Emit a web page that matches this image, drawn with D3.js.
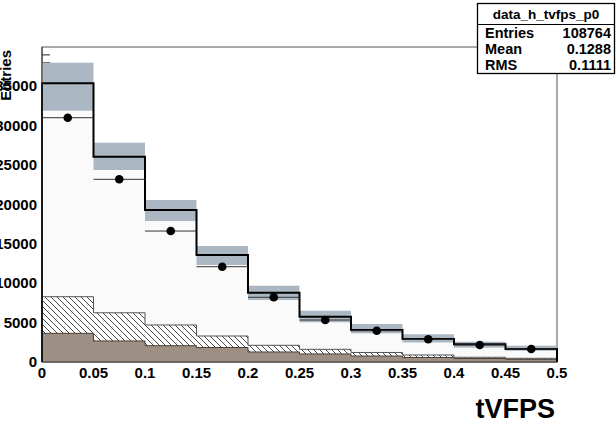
<!DOCTYPE html>
<html>
<head>
<meta charset="utf-8">
<script src="https://cdn.jsdelivr.net/npm/d3@7"></script>
<style>
  body { margin: 0; background: #fff; }
  text { font-family: "Liberation Sans", Arial, sans-serif; font-weight: bold; }
</style>
</head>
<body>
<div id="chart"></div>
<script>
// bins of tVFPS (width 0.05)
const binEdges = [0, 0.05, 0.1, 0.15, 0.2, 0.25, 0.3, 0.35, 0.4, 0.45, 0.5];
// total MC (thick line)
const mcValues = [35390, 26070, 19300, 13590, 8790, 5740, 4060, 2920, 2250, 1650];
// MC uncertainty band
const bandLow  = [31910, 24380, 17900, 12320, 7870, 5040, 3640, 2480, 1820, 1430];
const bandHigh = [38010, 27850, 20570, 14730, 9690, 6510, 4830, 3520, 2580, 2070];
// data points
const dataValues = [31020, 23200, 16630, 12100, 8220, 5330, 3970, 2880, 2160, 1650];
// background components
const hatchValues = [8290, 6250, 4700, 3300, 2120, 1610, 1210, 890, 600, 470];
const brownValues = [3640, 2670, 2070, 1840, 1270, 1020, 760, 570, 440, 340];

const xTicks = [0, 0.05, 0.1, 0.15, 0.2, 0.25, 0.3, 0.35, 0.4, 0.45, 0.5];
const xTickLabels = ["0", "0.05", "0.1", "0.15", "0.2", "0.25", "0.3", "0.35", "0.4", "0.45", "0.5"];
const yTicks = [0, 5000, 10000, 15000, 20000, 25000, 30000, 35000];
const yTickLabels = ["0", "5000", "10000", "15000", "20000", "25000", "30000", "35000"];

const statTitle = "data_h_tvfps_p0";
const statRows = [["Entries", "108764"], ["Mean", "0.1288"], ["RMS", "0.1111"]];

const width = 616, height = 432;
const marginLeft = 42, marginRight = 59, marginTop = 47, marginBottom = 70;

const x = d3.scaleLinear([0, 0.5], [marginLeft, width - marginRight]);
const y = d3.scaleLinear([0, 40000], [height - marginBottom, marginTop]);

const svg = d3.create("svg")
    .attr("width", width)
    .attr("height", height)
    .attr("viewBox", [0, 0, width, height]);

const defs = svg.append("defs");
defs.append("pattern")
    .attr("id", "hatch")
    .attr("patternUnits", "userSpaceOnUse")
    .attr("width", 6).attr("height", 6)
  .call(p => p.append("rect").attr("width", 6).attr("height", 6).attr("fill", "#fff"))
  .call(p => p.append("path")
      .attr("d", "M-1,-1 L7,7 M-1,5 L1,7 M5,-1 L7,1")
      .attr("stroke", "#333").attr("stroke-width", 0.9));

const bins = d3.range(mcValues.length).map(i => ({
  x0: binEdges[i], x1: binEdges[i + 1],
  mc: mcValues[i], lo: bandLow[i], hi: bandHigh[i],
  data: dataValues[i], hatch: hatchValues[i], brown: brownValues[i]
}));

// step outline helper
function stepArea(key) {
  let d = `M${x(0)},${y(0)}`;
  bins.forEach(b => { d += `L${x(b.x0)},${y(b[key])}L${x(b.x1)},${y(b[key])}`; });
  return d + `L${x(0.5)},${y(0)}Z`;
}
function stepLine(key) {
  let d = `M${x(0)},${y(0)}`;
  bins.forEach(b => { d += `L${x(b.x0)},${y(b[key])}L${x(b.x1)},${y(b[key])}`; });
  return d + `L${x(0.5)},${y(0)}`;
}

// frame
svg.append("rect")
    .attr("x", x(0)).attr("y", y(40000))
    .attr("width", x(0.5) - x(0)).attr("height", y(0) - y(40000))
    .attr("fill", "#fff").attr("stroke", "#555").attr("stroke-width", 1);

// y ticks (inward), later mostly hidden by the histogram fill
const yMinor = d3.range(1000, 40000, 1000);
svg.append("g")
    .selectAll("line")
    .data(yMinor)
    .join("line")
      .attr("x1", x(0)).attr("x2", d => x(0) + (d % 5000 === 0 ? 9 : 8))
      .attr("y1", d => y(d)).attr("y2", d => y(d))
      .attr("stroke", "#222");

// MC fill (very light)
svg.append("path").attr("d", stepArea("mc")).attr("fill", "#fafafa");

// uncertainty band
svg.append("g")
    .selectAll("rect")
    .data(bins)
    .join("rect")
      .attr("x", d => x(d.x0)).attr("width", d => x(d.x1) - x(d.x0))
      .attr("y", d => y(d.hi)).attr("height", d => y(d.lo) - y(d.hi))
      .attr("fill", "#abb8c4");

// hatched background
svg.append("path").attr("d", stepArea("hatch")).attr("fill", "url(#hatch)");
svg.append("path").attr("d", stepLine("hatch")).attr("fill", "none").attr("stroke", "#555").attr("stroke-width", 1);

// brown background
svg.append("path").attr("d", stepArea("brown")).attr("fill", "#9d8f84");
svg.append("path").attr("d", stepLine("brown")).attr("fill", "none").attr("stroke", "#4a4038").attr("stroke-width", 1);

// MC line
svg.append("path").attr("d", stepLine("mc")).attr("fill", "none")
    .attr("stroke", "#000").attr("stroke-width", 2).attr("stroke-linejoin", "miter");

// data points with horizontal error bars
const pts = svg.append("g").selectAll("g").data(bins).join("g");
pts.append("line")
    .attr("x1", d => x(d.x0)).attr("x2", d => x(d.x1))
    .attr("y1", d => y(d.data)).attr("y2", d => y(d.data))
    .attr("stroke", "#333").attr("stroke-width", 1);
pts.append("circle")
    .attr("cx", d => x((d.x0 + d.x1) / 2)).attr("cy", d => y(d.data))
    .attr("r", 4.3).attr("fill", "#000");

// axis lines
svg.append("line").attr("x1", x(0)).attr("x2", x(0)).attr("y1", y(0)).attr("y2", y(40000)).attr("stroke", "#333");
svg.append("line").attr("x1", x(0)).attr("x2", x(0.5)).attr("y1", y(0)).attr("y2", y(0)).attr("stroke", "#333").attr("stroke-width", 1.2);

// tick labels
svg.append("g")
    .selectAll("text")
    .data(xTicks)
    .join("text")
      .attr("x", d => x(d)).attr("y", 378)
      .attr("text-anchor", "middle").attr("font-size", 15).attr("fill", "#000")
      .text((d, i) => xTickLabels[i]);

svg.append("g")
    .selectAll("text")
    .data(yTicks)
    .join("text")
      .attr("x", 37).attr("y", d => y(d) + 5)
      .attr("text-anchor", "end").attr("font-size", 15).attr("fill", "#000")
      .text((d, i) => yTickLabels[i]);

// axis titles
svg.append("text")
    .attr("transform", `translate(11,${marginTop + 3}) rotate(-90)`)
    .attr("text-anchor", "end").attr("font-size", 15).attr("fill", "#000")
    .text("Entries");

svg.append("text")
    .attr("x", 555).attr("y", 418)
    .attr("text-anchor", "end").attr("font-size", 27).attr("fill", "#000")
    .text("tVFPS");

// stat box
const box = svg.append("g");
box.append("rect")
    .attr("x", 477.5).attr("y", 3.5).attr("width", 137).attr("height", 70)
    .attr("fill", "#fff").attr("stroke", "#000").attr("stroke-width", 1.3);
box.append("line").attr("x1", 477.5).attr("x2", 614.5).attr("y1", 24.5).attr("y2", 24.5)
    .attr("stroke", "#000").attr("stroke-width", 1);
box.append("text").attr("x", 546).attr("y", 18.5).attr("text-anchor", "middle")
    .attr("font-size", 13.5).text(statTitle);
box.selectAll("g.row")
    .data(statRows)
    .join("g")
      .attr("class", "row")
      .call(g => g.append("text").attr("x", 485).attr("y", (d, i) => 37.5 + i * 16)
          .attr("font-size", 14.5).text(d => d[0]))
      .call(g => g.append("text").attr("x", 611).attr("y", (d, i) => 37.5 + i * 16)
          .attr("text-anchor", "end").attr("font-size", 14.5).text(d => d[1]));

document.getElementById("chart").appendChild(svg.node());
</script>
</body>
</html>
